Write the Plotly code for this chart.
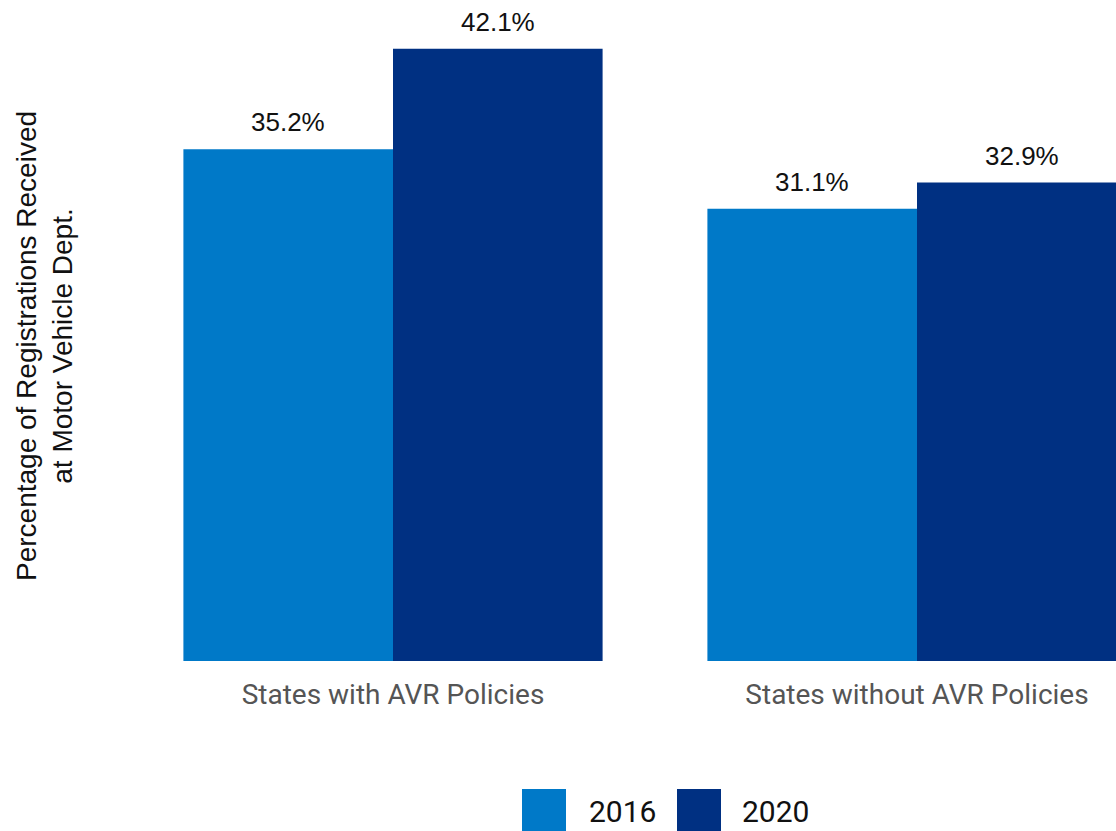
import plotly.graph_objects as go

categories = ["States with AVR Policies", "States without AVR Policies"]
years = ["2016", "2020"]
values_2016 = [35.2, 31.1]
values_2020 = [42.1, 32.9]
colors = {"2016": "#0079C8", "2020": "#003082"}

fig = go.Figure()
for yr, vals in zip(years, [values_2016, values_2020]):
    fig.add_trace(go.Bar(x=categories, y=vals, name=yr, marker_color=colors[yr],
                         marker_line_width=0, showlegend=False))

# value labels
offsets = [-0.2, 0.2]
for off, vals in zip(offsets, [values_2016, values_2020]):
    for i, v in enumerate(vals):
        fig.add_annotation(x=i + off, y=v, xref="x", yref="y", text=f"{v:.1f}%",
                           showarrow=False, yanchor="middle", yshift=27,
                           font=dict(family="Liberation Sans, Arial", size=26, color="#111111"))

# body margin removed via post_script -> figure coords = page coords
W, H = 1116, 831
ml, mr, mt = 131, 0, 10
mb = H - 661
pw, ph = W - ml - mr, H - mt - mb
UNIT = 524.0  # pixels per category
xmax = -0.5 + pw / UNIT
def px(x):
    return (x - ml) / pw
def py(y):
    return (H - mb - y) / ph

legend_items = [("2016", 522, 587), ("2020", 677, 740)]
for yr, sx, tx in legend_items:
    fig.add_shape(type="rect", xref="paper", yref="paper",
                  x0=px(sx), x1=px(sx + 44), y0=py(789), y1=py(835),
                  fillcolor=colors[yr], line_width=0)
    fig.add_annotation(xref="paper", yref="paper", x=px(tx), y=py(811), text=yr,
                       showarrow=False, xanchor="left", yanchor="middle",
                       font=dict(family="Roboto, Liberation Sans", size=30, color="#111111"))

# y axis title as rotated annotation
fig.add_annotation(xref="paper", yref="paper", x=px(44), y=py(346),
                   text="Percentage of Registrations Received<br>at Motor Vehicle Dept.",
                   textangle=-90, showarrow=False, xanchor="center", yanchor="middle",
                   font=dict(family="Liberation Sans, Arial", size=28, color="#111111"))

fig.update_layout(
    width=W, height=H,
    margin=dict(l=ml, r=mr, t=mt, b=mb),
    barmode="group", bargap=0.2, bargroupgap=0,
    plot_bgcolor="white", paper_bgcolor="white",
    xaxis=dict(range=[-0.5, xmax], showgrid=False, showline=False, zeroline=False,
               ticks="", tickfont=dict(family="Roboto, Liberation Sans", size=28, color="#555555"),
               ticklabelstandoff=14),
    yaxis=dict(range=[0, 44.77], showticklabels=False, showgrid=False, zeroline=False,
               showline=False, ticks=""),
)

fig.write_html("out.html", config={"displayModeBar": False},
               post_script="document.body.style.margin='0';document.body.style.overflow='hidden';")
